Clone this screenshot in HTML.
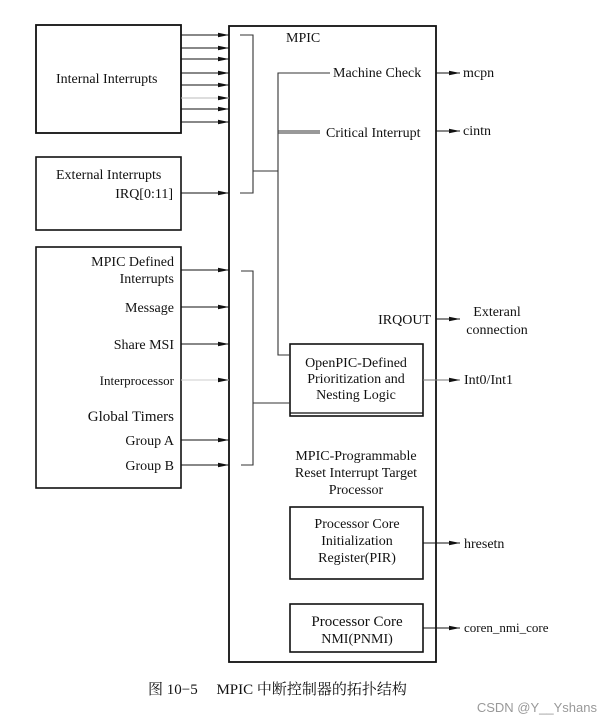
<!DOCTYPE html>
<html><head><meta charset="utf-8"><style>
html,body{margin:0;padding:0;background:#fff;}
svg{display:block;font-family:"Liberation Serif","Noto Serif CJK SC",serif;}
text{font-size:14px;fill:#111;}
</style></head><body>
<svg width="613" height="723" viewBox="0 0 613 723" xmlns="http://www.w3.org/2000/svg">
<defs><marker id="a" markerWidth="12" markerHeight="6" refX="11" refY="3" orient="auto" markerUnits="userSpaceOnUse"><path d="M0,0.8 L11,3 L0,5.2 Z" fill="#111"/></marker></defs>
<g fill="none" stroke="#111" stroke-width="1.3">
<rect x="36" y="25" width="145" height="108" stroke-width="1.8"/>
<rect x="36" y="157" width="145" height="73" stroke-width="1.6"/>
<rect x="36" y="247" width="145" height="241" stroke-width="1.6"/>
<rect x="229" y="26" width="207" height="636" stroke-width="1.8"/>
<rect x="290" y="344" width="133" height="72" stroke-width="1.6"/>
<line x1="290" y1="413" x2="423" y2="413"/>
<rect x="290" y="507" width="133" height="72" stroke-width="1.6"/>
<rect x="290" y="604" width="133" height="48" stroke-width="1.6"/>
</g>
<g stroke="#111" stroke-width="1.1" marker-end="url(#a)">
<line x1="181" y1="35" x2="229" y2="35"/><line x1="181" y1="48" x2="229" y2="48"/>
<line x1="181" y1="59" x2="229" y2="59"/><line x1="181" y1="73" x2="229" y2="73"/>
<line x1="181" y1="85" x2="229" y2="85"/><line x1="181" y1="98" x2="229" y2="98" stroke="#bbb"/>
<line x1="181" y1="109" x2="229" y2="109"/><line x1="181" y1="122" x2="229" y2="122"/>
<line x1="181" y1="193" x2="229" y2="193"/>
<line x1="181" y1="270" x2="229" y2="270"/><line x1="181" y1="307" x2="229" y2="307"/>
<line x1="181" y1="344" x2="229" y2="344"/><line x1="181" y1="380" x2="229" y2="380" stroke="#ccc"/>
<line x1="181" y1="440" x2="229" y2="440"/><line x1="181" y1="465" x2="229" y2="465"/>
<line x1="436" y1="73" x2="460" y2="73"/><line x1="436" y1="131" x2="460" y2="131"/>
<line x1="436" y1="319" x2="460" y2="319"/><line x1="423" y1="380" x2="460" y2="380" stroke="#777"/>
<line x1="423" y1="543" x2="460" y2="543"/><line x1="423" y1="628" x2="460" y2="628"/>
</g>
<g fill="none" stroke="#333" stroke-width="1.1">
<polyline points="240,35 253,35 253,193 240,193"/>
<line x1="253" y1="171" x2="278" y2="171"/>
<polyline points="330,73 278,73 278,355 290,355"/>
<line x1="278" y1="131" x2="320" y2="131"/><line x1="278" y1="133" x2="320" y2="133"/>
<polyline points="241,271 253,271 253,465 241,465"/>
<line x1="253" y1="403" x2="290" y2="403"/>
</g>
<text x="286" y="42">MPIC</text>
<text x="56" y="83">Internal Interrupts</text>
<text x="56" y="179">External Interrupts</text>
<text x="173" y="198" text-anchor="end">IRQ[0:11]</text>
<text x="174" y="266" text-anchor="end">MPIC Defined</text>
<text x="174" y="283" text-anchor="end">Interrupts</text>
<text x="174" y="312" text-anchor="end">Message</text>
<text x="174" y="349" text-anchor="end">Share MSI</text>
<text x="174" y="385" text-anchor="end" style="font-size:13px">Interprocessor</text>
<text x="174" y="421" text-anchor="end" style="font-size:15px">Global Timers</text>
<text x="174" y="445" text-anchor="end">Group A</text>
<text x="174" y="470" text-anchor="end">Group B</text>
<text x="333" y="77">Machine Check</text>
<text x="326" y="137">Critical Interrupt</text>
<text x="463" y="77">mcpn</text>
<text x="463" y="135">cintn</text>
<text x="431" y="324" text-anchor="end">IRQOUT</text>
<text x="497" y="316" text-anchor="middle">Exteranl</text>
<text x="497" y="334" text-anchor="middle">connection</text>
<text x="356" y="367" text-anchor="middle">OpenPIC-Defined</text>
<text x="356" y="383" text-anchor="middle">Prioritization and</text>
<text x="356" y="399" text-anchor="middle">Nesting Logic</text>
<text x="464" y="384">Int0/Int1</text>
<text x="356" y="460" text-anchor="middle">MPIC-Programmable</text>
<text x="356" y="477" text-anchor="middle">Reset Interrupt Target</text>
<text x="356" y="494" text-anchor="middle">Processor</text>
<text x="357" y="528" text-anchor="middle">Processor Core</text>
<text x="357" y="545" text-anchor="middle">Initialization</text>
<text x="357" y="562" text-anchor="middle">Register(PIR)</text>
<text x="464" y="548">hresetn</text>
<text x="357" y="626" text-anchor="middle" style="font-size:15px">Processor Core</text>
<text x="357" y="643" text-anchor="middle">NMI(PNMI)</text>
<text x="464" y="632" style="font-size:13px">coren_nmi_core</text>
<text x="148" y="694" style="font-size:15px">图 10−5　 MPIC 中断控制器的拓扑结构</text>
<text x="597" y="712" text-anchor="end" style="font-size:13px;fill:#999;font-family:'Liberation Sans',sans-serif">CSDN @Y__Yshans</text>
</svg>
</body></html>
